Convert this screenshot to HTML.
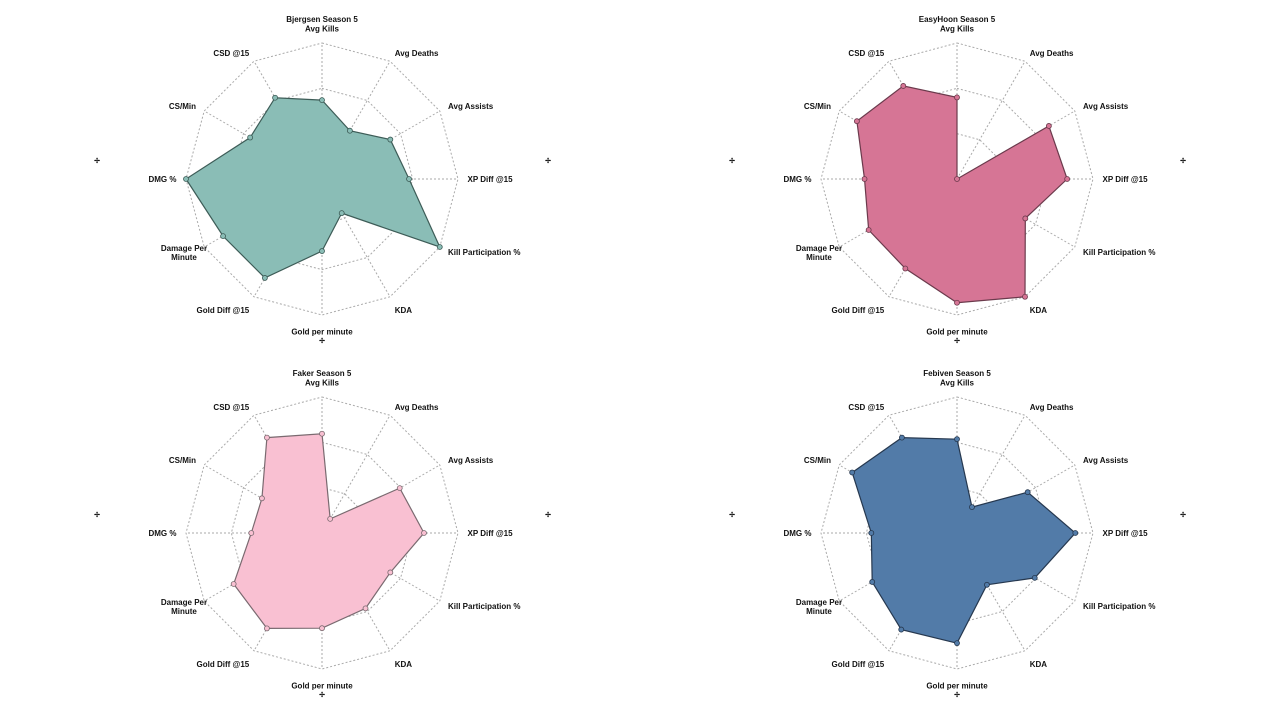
<!DOCTYPE html>
<html><head><meta charset="utf-8"><style>
html,body{margin:0;padding:0;background:#fff;width:1280px;height:720px;overflow:hidden}
svg text{font-family:"Liberation Sans",Arial,sans-serif;font-weight:bold;fill:#111}
</style></head><body>
<svg id="chart" width="1280" height="720" xmlns="http://www.w3.org/2000/svg"></svg>
<script>
const axesLabels = ["Avg Kills","Avg Deaths","Avg Assists","XP Diff @15","Kill Participation %","KDA","Gold per minute","Gold Diff @15","Damage Per|Minute","DMG %","CS/Min","CSD @15"];
const players = ["Bjergsen Season 5","EasyHoon Season 5","Faker Season 5","Febiven Season 5"];
const bjergsenValues = [0.58,0.41,0.58,0.64,1.0,0.29,0.53,0.84,0.84,1.0,0.61,0.69];
const easyhoonValues = [0.6,0.0,0.78,0.81,0.58,1.0,0.91,0.76,0.75,0.68,0.85,0.79];
const fakerValues = [0.73,0.12,0.66,0.75,0.58,0.64,0.7,0.81,0.75,0.52,0.51,0.81];
const febivenValues = [0.69,0.22,0.6,0.87,0.66,0.44,0.81,0.82,0.72,0.63,0.89,0.81];
const allValues=[bjergsenValues,easyhoonValues,fakerValues,febivenValues];
const fills=["#8abdb6","#d67595","#f9c0d2","#527ba8"];
const strokes=["#3d5c57","#6b3a4c","#7a6a70","#26384f"];
const centers=[[322,179],[957,179],[322,533],[957,533]];
const R=136;
const NS="http://www.w3.org/2000/svg";
const svg=document.getElementById('chart');
function mk(t,a,p){const e=document.createElementNS(NS,t);for(const k in a)e.setAttribute(k,a[k]);(p||svg).appendChild(e);return e;}
function pt(c,i,f){const a=i*Math.PI/6;return [c[0]+Math.sin(a)*R*f,c[1]-Math.cos(a)*R*f];}
players.forEach((name,pi)=>{
  const c=centers[pi];
  const g=mk('g',{});
  
  
  [1/3,2/3,1].forEach(f=>{
    const pts=axesLabels.map((_,i)=>pt(c,i,f).join(',')).join(' ');
    const ring=mk('polygon',{points:pts,fill:'none',stroke:'#aaa','stroke-width':1,'stroke-dasharray':'2,2'},g);
    
    
  });
  axesLabels.forEach((_,i)=>{
    const p=pt(c,i,1);
    const l=mk('line',{x1:c[0],y1:c[1],x2:p[0],y2:p[1],stroke:'#aaa','stroke-width':1,'stroke-dasharray':'2,2'},g);
    
    
  });
  const vals=allValues[pi];
  const poly=mk('polygon',{points:vals.map((v,i)=>pt(c,i,v).join(',')).join(' '),fill:fills[pi],stroke:strokes[pi],'stroke-width':1.2},g);
  
  
  vals.forEach((v,i)=>{
    const p=pt(c,i,v);
    const d=mk('circle',{cx:p[0],cy:p[1],r:2.5,fill:fills[pi],stroke:strokes[pi],'stroke-width':0.8},g);
    
    
  });
  axesLabels.forEach((lab,i)=>{
    const a=i*30;
    const p=pt(c,i,1.07);
    let anchor='middle';
    if(a>0&&a<180)anchor='start';
    if(a>180)anchor='end';
    let dy=3;
    if(a===0)dy=-2;
    if(a===180)dy=10;
    if(a===150||a===210)dy=8;
    const lines=lab.split('|');
    const t=mk('text',{x:p[0],y:p[1]+dy-(lines.length-1)*4,'font-size':8,'text-anchor':anchor},g);
    
    
    lines.forEach((ln,k)=>{const s=mk('tspan',{x:lines.length>1?p[0]-12:p[0],dy:k?9:0,'text-anchor':lines.length>1?'middle':anchor},t);s.textContent=ln;});
  });
  const title=mk('text',{x:c[0],y:c[1]-157,'font-size':8,'text-anchor':'middle'},g);
  
  
  title.textContent=name;
  [[c[0]-225,c[1]-16],[c[0]+226,c[1]-16],[c[0],c[1]+164]].forEach(q=>{
    const m=mk('text',{x:q[0],y:q[1],'font-size':7,'text-anchor':'middle',fill:'#333'},g);
    
    
    m.textContent='✢';
  });
});
</script>
</body></html>
